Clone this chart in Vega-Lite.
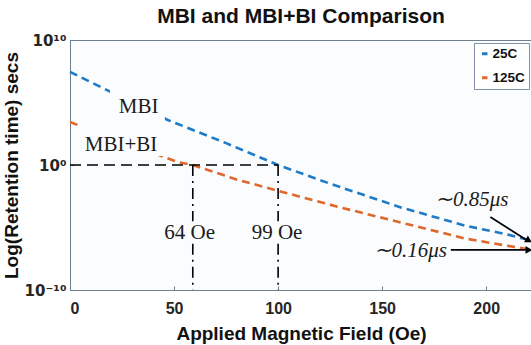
{
  "$schema": "https://vega.github.io/schema/vega-lite/v6.json",
  "autosize": "none",
  "width": 462,
  "height": 250,
  "padding": {"left": 70, "top": 40, "right": 0, "bottom": 55},
  "background": "#ffffff",
  "title": {"text": "MBI and MBI+BI Comparison", "font": "Liberation Sans", "fontSize": 21, "fontWeight": "bold", "color": "#111111", "offset": 6, "anchor": "middle"},
  "config": {
    "view": {"stroke": "#6f7f8f", "strokeWidth": 1, "fill": "#fbfcfe"},
    "axis": {"labelFont": "Liberation Sans", "labelFontSize": 16, "labelFontWeight": "bold", "labelColor": "#262626", "titleFont": "Liberation Sans", "titleFontSize": 19, "titleFontWeight": "bold", "titleColor": "#111111", "domainColor": "#6f7f8f", "tickColor": "#6f7f8f", "grid": false}
  },
  "datasets": {
    "curves": [
      {"field": 0, "time": 2.8e7, "temp": "25C"},
      {"field": 25, "time": 2.5e5, "temp": "25C"},
      {"field": 47, "time": 4000, "temp": "25C"},
      {"field": 75, "time": 56, "temp": "25C"},
      {"field": 100, "time": 1, "temp": "25C"},
      {"field": 125, "time": 0.032, "temp": "25C"},
      {"field": 159, "time": 4e-4, "temp": "25C"},
      {"field": 190, "time": 1.4e-5, "temp": "25C"},
      {"field": 210, "time": 2.8e-6, "temp": "25C"},
      {"field": 222, "time": 8.5e-7, "temp": "25C"},
      {"field": 0, "time": 2750, "temp": "125C"},
      {"field": 25, "time": 70, "temp": "125C"},
      {"field": 52, "time": 1.7, "temp": "125C"},
      {"field": 59, "time": 1, "temp": "125C"},
      {"field": 80, "time": 0.07, "temp": "125C"},
      {"field": 102, "time": 0.007, "temp": "125C"},
      {"field": 130, "time": 4e-4, "temp": "125C"},
      {"field": 159, "time": 2.5e-5, "temp": "125C"},
      {"field": 190, "time": 1.3e-6, "temp": "125C"},
      {"field": 222, "time": 1.6e-7, "temp": "125C"}
    ],
    "masks": [
      {"field": 19.2, "field2": 45.6, "time": 1.4e6, "time2": 4000},
      {"field": 3.8, "field2": 45.6, "time": 3300, "time2": 5.2}
    ],
    "hline": [{"field": 0, "field2": 100, "time": 1}],
    "vlines": [
      {"field": 59, "time": 1, "time2": 3.2e-5},
      {"field": 59, "time": 5e-7, "time2": 1e-10},
      {"field": 100, "time": 1, "time2": 3.2e-5},
      {"field": 100, "time": 5e-7, "time2": 1e-10}
    ],
    "labels": [
      {"field": 33, "time": 43650, "text": "MBI"},
      {"field": 24.5, "time": 40, "text": "MBI+BI"},
      {"field": 57.5, "time": 3.6e-6, "text": "64 Oe"},
      {"field": 99.5, "time": 3.6e-6, "text": "99 Oe"}
    ],
    "ilabels": [
      {"field": 193, "time": 1.6e-3, "text": "∼0.85μs"},
      {"field": 163.5, "time": 1.3e-7, "text": "∼0.16μs"}
    ],
    "arrows": [
      {"field": 202, "time": 6.9e-5, "field2": 219, "time2": 1.1e-6},
      {"field": 183, "time": 1.6e-7, "field2": 219, "time2": 1.6e-7}
    ],
    "heads": [
      {"field": 220.5, "time": 9e-7, "ang": 30},
      {"field": 220.5, "time": 1.6e-7, "ang": 0}
    ]
  },
  "layer": [
    {
      "data": {"name": "curves"},
      "mark": {"type": "line", "strokeWidth": 2.6, "strokeDash": [8, 5]},
      "encoding": {
        "x": {"field": "field", "type": "quantitative", "scale": {"domain": [0, 222], "nice": false, "zero": false},
              "axis": {"title": "Applied Magnetic Field (Oe)", "values": [0, 50, 100, 150, 200], "tickSize": -4, "labelPadding": 14, "titlePadding": 8}},
        "y": {"field": "time", "type": "quantitative", "scale": {"type": "log", "domain": [1e-10, 1e10], "nice": false},
              "axis": {"title": "Log(Retention time) secs", "values": [1e-10, 1, 1e10], "tickSize": -4, "labelPadding": 8, "titlePadding": 3,
                       "labelFont": "DejaVu Sans", "labelFontSize": 15,
                       "labelExpr": "datum.value > 2 ? '10¹⁰' : (datum.value > 0.5 ? '10⁰' : '10⁻¹⁰')"}},
        "color": {"field": "temp", "type": "nominal", "scale": {"domain": ["25C", "125C"], "range": ["#1f7bc6", "#e0672e"]},
                  "legend": {"title": null, "orient": "top-right", "offset": 3, "labelFont": "Liberation Sans", "labelFontSize": 13.5, "labelFontWeight": "bold", "labelColor": "#111111",
                             "symbolType": "stroke", "symbolStrokeWidth": 3, "symbolSize": 30, "symbolDash": [40, 1], "strokeColor": "#7f93a8", "fillColor": "#ffffff", "padding": 4, "rowPadding": 9, "labelOffset": 1}}
      }
    },
    {
      "data": {"name": "masks"},
      "mark": {"type": "rect", "color": "#fbfcfe"},
      "encoding": {"x": {"field": "field", "type": "quantitative"}, "x2": {"field": "field2"}, "y": {"field": "time", "type": "quantitative"}, "y2": {"field": "time2"}}
    },
    {
      "data": {"name": "hline"},
      "mark": {"type": "rule", "color": "#000000", "strokeWidth": 1.6, "strokeDash": [11, 6]},
      "encoding": {"x": {"field": "field", "type": "quantitative"}, "x2": {"field": "field2"}, "y": {"field": "time", "type": "quantitative"}}
    },
    {
      "data": {"name": "vlines"},
      "mark": {"type": "rule", "color": "#000000", "strokeWidth": 1.6, "strokeDash": [11, 5, 2, 5]},
      "encoding": {"x": {"field": "field", "type": "quantitative"}, "y": {"field": "time", "type": "quantitative"}, "y2": {"field": "time2"}}
    },
    {
      "data": {"name": "labels"},
      "mark": {"type": "text", "font": "Liberation Serif", "fontSize": 21, "color": "#1a1a1a", "align": "center", "baseline": "middle"},
      "encoding": {"x": {"field": "field", "type": "quantitative"}, "y": {"field": "time", "type": "quantitative"}, "text": {"field": "text"}}
    },
    {
      "data": {"name": "ilabels"},
      "mark": {"type": "text", "font": "Liberation Serif", "fontSize": 21, "fontStyle": "italic", "color": "#1a1a1a", "align": "center", "baseline": "middle"},
      "encoding": {"x": {"field": "field", "type": "quantitative"}, "y": {"field": "time", "type": "quantitative"}, "text": {"field": "text"}}
    },
    {
      "data": {"name": "arrows"},
      "mark": {"type": "rule", "color": "#000000", "strokeWidth": 1.8},
      "encoding": {"x": {"field": "field", "type": "quantitative"}, "y": {"field": "time", "type": "quantitative"}, "x2": {"field": "field2"}, "y2": {"field": "time2"}}
    },
    {
      "data": {"name": "heads"},
      "mark": {"type": "point", "shape": "triangle-right", "filled": true, "color": "#000000", "size": 60, "opacity": 1},
      "encoding": {"x": {"field": "field", "type": "quantitative"}, "y": {"field": "time", "type": "quantitative"}, "angle": {"field": "ang", "type": "quantitative", "scale": null}}
    }
  ]
}
